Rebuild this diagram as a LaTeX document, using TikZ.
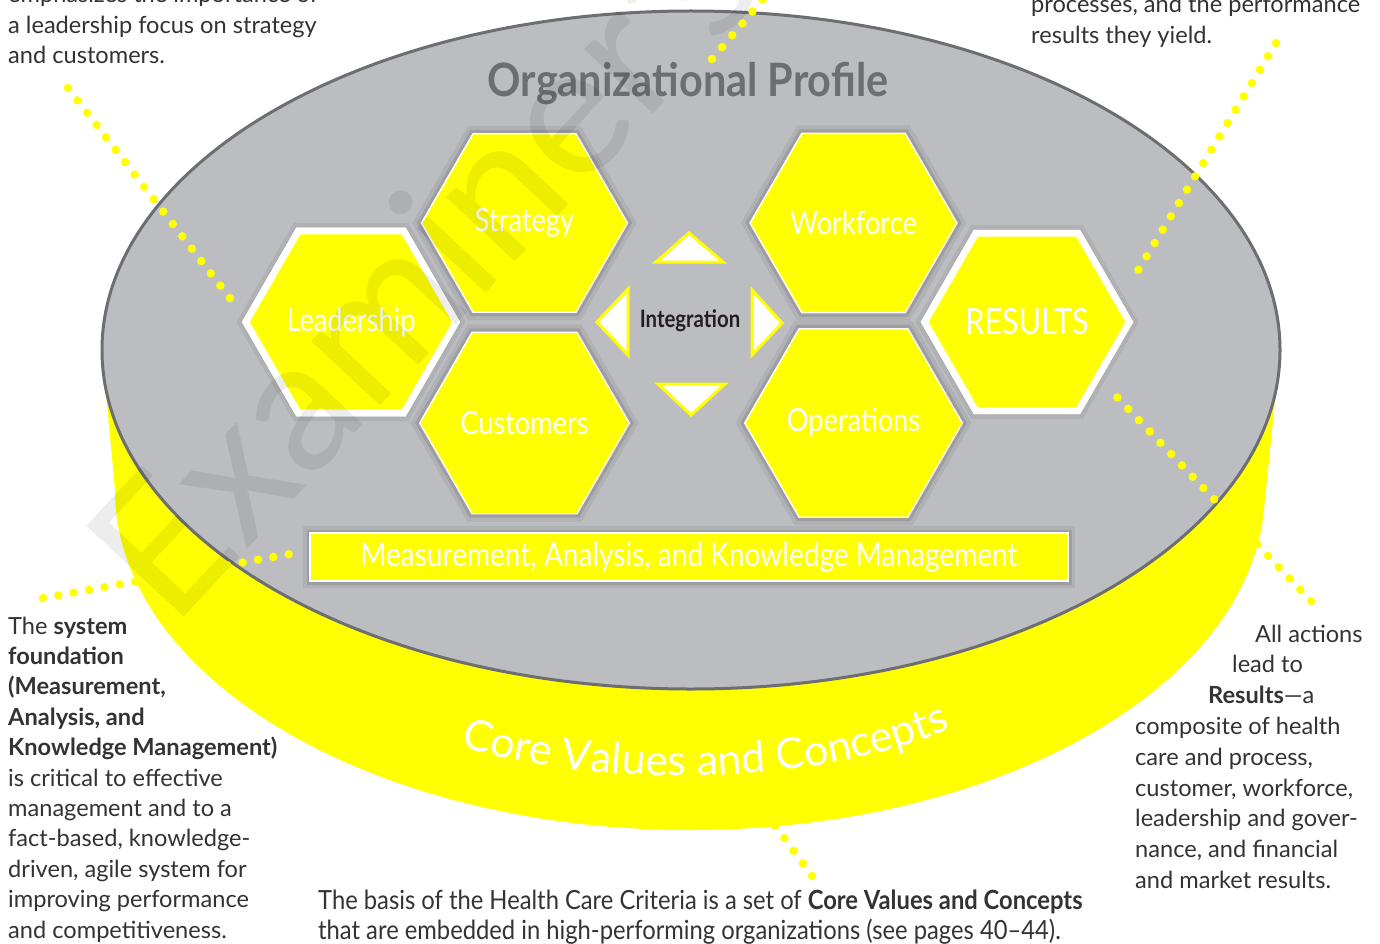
\documentclass[tikz,border=0pt]{standalone}
\usepackage{fontspec}
\setmainfont{Lato}
\newfontfamily\condf[FakeStretch=0.85,Ligatures=TeX]{Lato}
\newfontfamily\bodycondf[FakeStretch=0.9,Ligatures=TeX]{Lato}
\newfontfamily\titlef[FakeStretch=0.9,Ligatures=TeX]{Lato}
\usetikzlibrary{shapes.geometric,decorations.text}
\definecolor{yel}{HTML}{FFFF00}
\definecolor{topgray}{HTML}{BCBDC1}
\definecolor{rimgray}{HTML}{6D6E71}
\definecolor{ink}{HTML}{231F20}
\definecolor{bodyink}{HTML}{333333}
\begin{document}
\begin{tikzpicture}[x=1pt,y=-1pt,
  hexbox/.style={regular polygon, regular polygon sides=6, inner sep=0pt, fill=yel,
    text=white, font=\condf\fontsize{32}{32}\selectfont,
    preaction={draw=black, draw opacity=0.06, line width=16pt},
    preaction={draw=black, draw opacity=0.10, line width=8pt}},
  thinhex/.style={hexbox, minimum size=206pt, draw=white, line width=1.4pt},
  thickhex/.style={hexbox, minimum size=205pt, draw=white, line width=7pt},
  tri/.style={fill=white, draw=yel, line width=3pt, line join=miter},
  dotline/.style={draw=yel, line width=8.5pt, line cap=round, dash pattern=on 0pt off 15.6pt},
  bodytext/.style={inner sep=0pt, anchor=base west, text=bodyink, font=\fontsize{23.6}{30.6}\selectfont}
]
\useasboundingbox (0,0) rectangle (1380,944);
\clip (0,0) rectangle (1380,944);
\fill[white] (0,0) rectangle (1380,944);

% cylinder body
\fill[yel] (102,350) -- (115,490) -- (1266,490) -- (1280,350) -- cycle;
\fill[yel] (690,490) ellipse [x radius=575pt, y radius=340pt];
% top face
\filldraw[fill=topgray, draw=rimgray, line width=3pt] (691,350) ellipse [x radius=589pt, y radius=339pt];

\node[anchor=base, text=rimgray, font=\titlef\bfseries\fontsize{46}{46}\selectfont] (title) at (688,97) {Organizational Profile};

% hexagons
\node[thinhex] (strategy) at (524.5,223) {Strategy};
\node[thinhex] (customers) at (524.5,423) {Customers};
\node[thinhex] (workforce) at (853.5,223) {Workforce};
\node[thinhex] (operations) at (853.5,423) {Operations};
\node[thickhex] (leadership) at (351,322) {Leadership};
\node[thickhex, font=\condf\fontsize{36}{36}\selectfont] (results) at (1027,322) {RESULTS};

% measurement bar
\node[draw=white, line width=2pt, fill=yel, minimum width=758pt, minimum height=48pt, inner sep=0pt,
  text=white, font=\condf\fontsize{33}{33}\selectfont,
  preaction={draw=black, draw opacity=0.06, line width=14pt},
  preaction={draw=black, draw opacity=0.10, line width=7pt}] (mak) at (689,557)
  {Measurement, Analysis, and Knowledge Management};

% integration arrows
\draw[tri] (689,233) -- (656,262) -- (723,262) -- cycle;
\draw[tri] (658,384) -- (725,384) -- (691,415) -- cycle;
\draw[tri] (597,322) -- (628,289) -- (628,355) -- cycle;
\draw[tri] (752,290) -- (752,355) -- (782,323) -- cycle;
\node[text=ink, font=\condf\bfseries\fontsize{24}{24}\selectfont] (integ) at (690,321) {Integration};

% curved label
\coordinate (cv1) at (430,735);
\coordinate (cv2) at (560,790);
\coordinate (cv3) at (830,795);
\coordinate (cv4) at (980,715);
\path[decorate, decoration={text along path, text align=center, text color=white,
  text={|\fontsize{43}{43}\selectfont|Core Values and Concepts}}]
  (cv1) .. controls (cv2) and (cv3) .. (cv4);

% dotted connectors
\coordinate (tl1) at (68,88);   \coordinate (tl2) at (236,306);
\coordinate (tm1) at (712,59);  \coordinate (tm2) at (775,-15);
\coordinate (tr1) at (1276,43); \coordinate (tr2) at (1131,282);
\coordinate (rl1) at (1311,601); \coordinate (rl2) at (1115,395);
\coordinate (lb1) at (43,598);  \coordinate (lb2) at (290,554);
\coordinate (bt1) at (812,876); \coordinate (bt2) at (755,798);
\draw[dotline] (tl1) -- (tl2);
\draw[dotline] (tm1) -- (tm2);
\draw[dotline] (tr1) -- (tr2);
\draw[dotline] (rl1) -- (rl2);
\draw[dotline] (lb1) -- (lb2);
\draw[dotline] (bt1) -- (bt2);

% texts
\node[bodytext] (ttl) at (8,2.5) {\begin{tabular}[t]{@{}l@{}}emphasizes the importance of\\ a leadership focus on strategy\\ and customers.\end{tabular}};
\node[bodytext] (ttr) at (1031,13) {\begin{tabular}[t]{@{}l@{}}processes, and the performance\\ results they yield.\end{tabular}};
\node[bodytext] (tlb) at (8,634) {\fontsize{23.6}{30.4}\selectfont\begin{tabular}[t]{@{}l@{}}The \textbf{system}\\ \textbf{foundation}\\ \textbf{(Measurement,}\\ \textbf{Analysis, and}\\ \textbf{Knowledge Management)}\\ is critical to effective\\ management and to a\\ fact-based, knowledge-\\ driven, agile system for\\ improving performance\\ and competitiveness.\end{tabular}};
\node[bodytext] (trb) at (1135,642) {\fontsize{23.6}{30.8}\selectfont\begin{tabular}[t]{@{}l@{}}\hspace*{120pt}All actions\\ \hspace*{97pt}lead to\\ \hspace*{73pt}\textbf{Results}---a\\ composite of health\\ care and process,\\ customer, workforce,\\ leadership and gover-\\ nance, and financial\\ and market results.\end{tabular}};
\node[bodytext, font=\bodycondf\fontsize{26.4}{30.5}\selectfont] (tbot) at (318,909) {\begin{tabular}[t]{@{}l@{}}The basis of the Health Care Criteria is a set of \textbf{Core Values and Concepts}\\ that are embedded in high-performing organizations (see pages 40\textendash 44).\end{tabular}};

% watermark
\node[rotate=47, anchor=base west, inner sep=0pt, text=black, text opacity=0.07,
  font=\fontsize{186}{186}\selectfont] (wm) at (172,630) {Examiner's};
\end{tikzpicture}
\end{document}
